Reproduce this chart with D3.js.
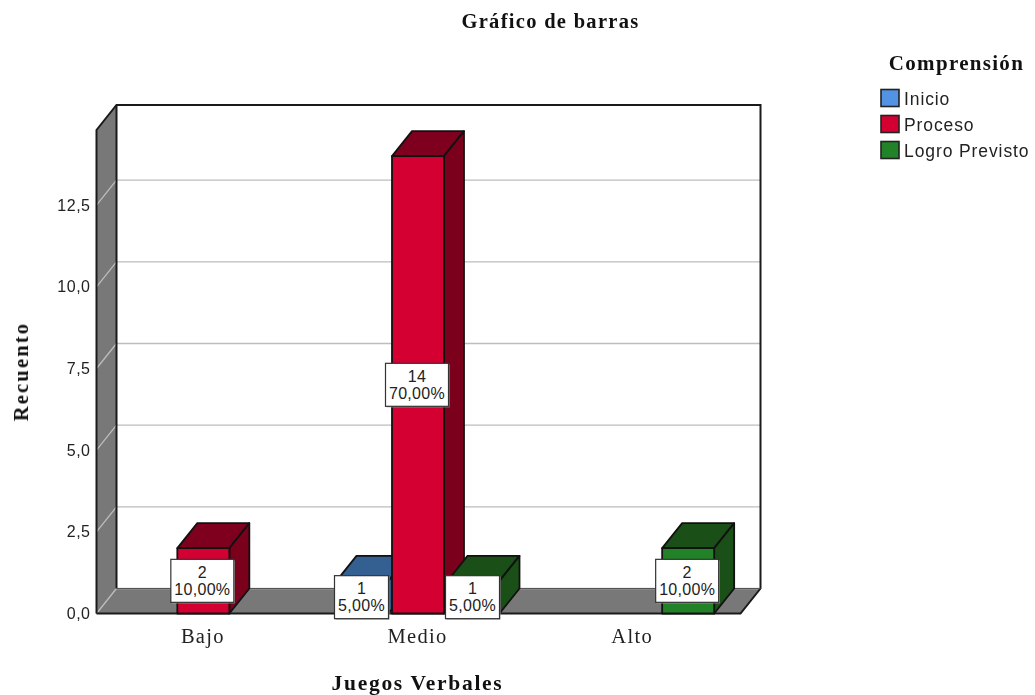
<!DOCTYPE html>
<html><head><meta charset="utf-8">
<script src="https://cdn.jsdelivr.net/npm/d3@7"></script>
<style>html,body{margin:0;padding:0;background:#fff;overflow:hidden}svg{display:block;filter:blur(0.35px)}</style>
</head><body><svg id="c" width="1035" height="695"></svg>
<script>
const categories = ["Bajo", "Medio", "Alto"];
const seriesNames = ["Inicio", "Proceso", "Logro Previsto"];
const inicioValues = [null, 1, null];
const procesoValues = [2, 14, null];
const logroValues = [null, 1, 2];
const inicioPct = [null, "5,00%", null];
const procesoPct = ["10,00%", "70,00%", null];
const logroPct = [null, "5,00%", "10,00%"];
const yTicks = [0, 2.5, 5, 7.5, 10, 12.5];
const yMax = 14.8;
const frontColors = ["#5293e3", "#d50032", "#228228"];
const topColors = ["#335f91", "#7f001e", "#1a4f17"];
const sideColors = ["#2f5a8c", "#7a001c", "#1a4f17"];

const L = 96.5, R = 740.5, B = 613.5, T = 130, DX = 20, DY = -25, BW = 52;
const svg = d3.select("#c");
const serif = "'Liberation Serif','DejaVu Serif',serif";
const sans = "'Liberation Sans',Arial,sans-serif";
const dark = "#1a1a1a";

const x = d3.scaleBand().domain(categories).range([L, R]);
const inner = d3.scalePoint().domain(seriesNames).range([-55.5, 55.5]);
const y = d3.scaleLinear().domain([0, yMax]).range([B, T]);
const poly = pts => pts.map(p => p.join(",")).join(" ");

// walls and floor
svg.append("polygon").attr("points", poly([[L+DX,T+DY],[R+DX,T+DY],[R+DX,B+DY],[L+DX,B+DY]])).attr("fill","#fff");
svg.append("polygon").attr("points", poly([[L,T],[L+DX,T+DY],[L+DX,B+DY],[L,B]])).attr("fill","#787878");
svg.append("polygon").attr("points", poly([[L,B],[L+DX,B+DY],[R+DX,B+DY],[R,B]])).attr("fill","#787878");

// grid
yTicks.forEach(t => {
  svg.append("polyline").attr("points", poly([[L,y(t)],[L+DX,y(t)+DY],[R+DX,y(t)+DY]]))
    .attr("fill","none").attr("stroke", "#bdbdbd").attr("stroke-width",1.3);
});
// frame
svg.append("polyline").attr("points", poly([[L,B],[L,T],[L+DX,T+DY],[R+DX,T+DY],[R+DX,B+DY],[R,B],[L,B]]))
  .attr("fill","none").attr("stroke",dark).attr("stroke-width",2);
svg.append("line").attr("x1",L+DX).attr("x2",L+DX).attr("y1",T+DY).attr("y2",B+DY).attr("stroke",dark).attr("stroke-width",2);
svg.append("line").attr("x1",L+DX).attr("x2",R+DX).attr("y1",B+DY).attr("y2",B+DY).attr("stroke","#555").attr("stroke-width",1);

// bars
const allValues = [inicioValues, procesoValues, logroValues];
const allPct = [inicioPct, procesoPct, logroPct];
const marks = [];
categories.forEach((c, ci) => seriesNames.forEach((s, si) => {
  if (allValues[si][ci] != null) marks.push({c, s, si, v: allValues[si][ci], pct: allPct[si][ci]});
}));
const barLeft = d => x(d.c) + x.bandwidth()/2 + inner(d.s) - BW/2 - 0.5;
const g = svg.append("g").selectAll("g").data(marks).join("g")
  .attr("stroke", "#111").attr("stroke-width", 1.8).attr("stroke-linejoin","round");
g.append("polygon").attr("points", d => { const a=barLeft(d), b=a+BW, t=y(d.v);
    return poly([[a,t],[a+DX,t+DY],[b+DX,t+DY],[b,t]]); }).attr("fill", d => topColors[d.si]);
g.append("polygon").attr("points", d => { const b=barLeft(d)+BW, t=y(d.v);
    return poly([[b,t],[b+DX,t+DY],[b+DX,B+DY],[b,B]]); }).attr("fill", d => sideColors[d.si]);
g.append("rect").attr("x", barLeft).attr("y", d => y(d.v)).attr("width", BW).attr("height", d => B - y(d.v))
  .attr("fill", d => frontColors[d.si]);

// value labels
const lab = svg.append("g").selectAll("g").data(marks).join("g")
  .attr("transform", d => `translate(${barLeft(d)+BW/2-1},${(y(d.v)+B)/2})`);
const boxW = d => d.pct.length > 5 ? 63 : 54;
lab.append("rect").attr("x", d => -boxW(d)/2+1).attr("y",-20.5).attr("width", boxW).attr("height",43).attr("fill","#aaa");
lab.append("rect").attr("x", d => -boxW(d)/2).attr("y",-21.5).attr("width", boxW).attr("height",43)
  .attr("fill","#fff").attr("stroke","#333").attr("stroke-width",1.2);
lab.append("text").attr("text-anchor","middle").attr("y",-3).attr("font-family",sans).attr("font-size",16).attr("letter-spacing",0.3).attr("fill","#222").text(d => d.v);
lab.append("text").attr("text-anchor","middle").attr("y",14).attr("font-family",sans).attr("font-size",16).attr("letter-spacing",0.3).attr("fill","#222").text(d => d.pct);

// axes
const yAxis = d3.axisLeft(y).tickValues(yTicks).tickSize(0).tickPadding(6)
  .tickFormat(d => d3.format(".1f")(d).replace(".", ","));
const ya = svg.append("g").attr("transform",`translate(${L},0)`).call(yAxis);
ya.select(".domain").remove();
ya.selectAll("text").attr("font-family",sans).attr("font-size",16).attr("letter-spacing",0.5).attr("fill","#222");

const xAxis = d3.axisBottom(x).tickSize(0).tickPadding(15);
const xa = svg.append("g").attr("transform",`translate(-1,${B})`).call(xAxis);
xa.select(".domain").remove();
xa.selectAll("text").attr("font-family",serif).attr("font-size",20.5).attr("letter-spacing",1.3).attr("fill","#222");

// titles
const bold = (xp, yp, t, size, ls) => svg.append("text").attr("x",xp).attr("y",yp).attr("text-anchor","middle")
  .attr("font-family",serif).attr("font-weight","bold").attr("font-size",size).attr("letter-spacing",ls).attr("fill","#111").text(t);
bold(550.5, 28, "Gráfico de barras", 20.5, 1.3);
bold(417.5, 690, "Juegos Verbales", 21.5, 1.7);
bold(956.5, 70, "Comprensión", 21, 1.3);
svg.append("text").attr("transform","translate(28,371.5) rotate(-90)").attr("text-anchor","middle")
  .attr("font-family",serif).attr("font-weight","bold").attr("font-size",20.5).attr("letter-spacing",2.2).attr("fill","#111").text("Recuento");

// legend
const ly = d3.scalePoint().domain(seriesNames).range([98, 150]);
const lg = svg.append("g").selectAll("g").data(seriesNames).join("g").attr("transform", d => `translate(0,${ly(d)})`);
lg.append("rect").attr("x",881).attr("y",-8.5).attr("width",18).attr("height",17)
  .attr("fill",(d,i)=>frontColors[i]).attr("stroke","#222").attr("stroke-width",1.6);
lg.append("text").attr("x",904).attr("y",7).attr("font-family",sans).attr("font-size",17.5).attr("letter-spacing",0.9).attr("fill","#222").text(d=>d);
</script></body></html>
